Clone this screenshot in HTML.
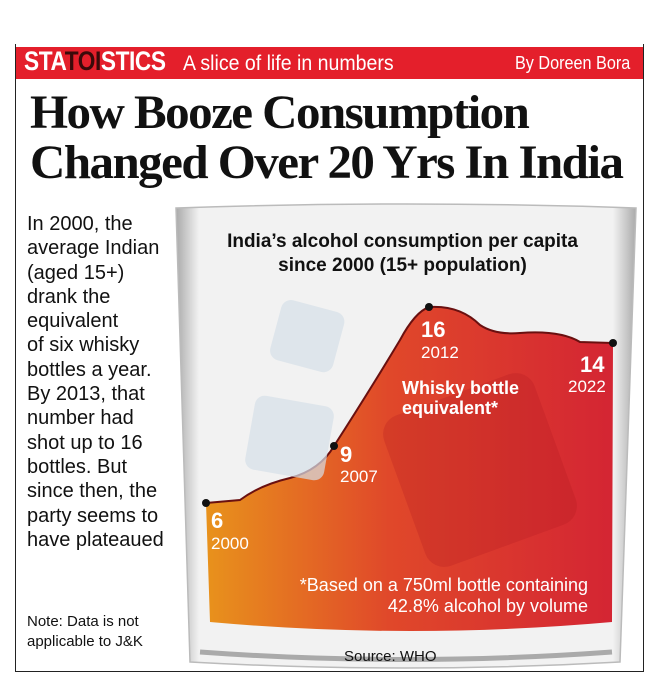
<!DOCTYPE html>
<html><head><meta charset="utf-8"><style>
body{margin:0;width:658px;height:686px;background:#fff;position:relative;overflow:hidden;font-family:"Liberation Sans",sans-serif}
.a{position:absolute;white-space:nowrap}
</style></head><body>
<div class="a" style="left:15px;top:44px;width:627px;height:627px;border:1.5px solid #222;border-top:none"></div>
<div class="a" style="left:16px;top:47px;width:627px;height:32px;background:#e41f2b"></div>
<div class="a" style="left:24px;top:46px;font-size:27px;font-weight:bold;color:#fff;letter-spacing:-0.5px;transform:scaleX(0.84);transform-origin:left">STA<span style="color:#3a0a0a">TOI</span>STICS</div>
<div class="a" style="left:183px;top:52px;font-size:21px;color:#fff;transform:scaleX(0.93);transform-origin:left">A slice of life in numbers</div>
<div class="a" style="left:515px;top:53px;font-size:18px;color:#fff;transform:scaleX(0.9);transform-origin:left">By Doreen Bora</div>
<div class="a" style="left:30px;top:88px;font-family:'Liberation Serif',serif;font-weight:bold;font-size:48px;color:#111;letter-spacing:-1.5px;line-height:50px;transform:scaleX(1.02);transform-origin:left">How Booze Consumption<br>Changed Over 20 Yrs In India</div>
<div class="a" style="left:27px;top:212px;font-size:20px;line-height:24.3px;color:#111">In 2000, the<br>average Indian<br>(aged 15+)<br>drank the<br>equivalent<br>of six whisky<br>bottles a year.<br>By 2013, that<br>number had<br>shot up to 16<br>bottles. But<br>since then, the<br>party seems to<br>have plateaued</div>
<div class="a" style="left:27px;top:612px;font-size:15px;line-height:20px;color:#111">Note: Data is not<br>applicable to J&amp;K</div>
<svg class="a" style="left:0;top:0" width="658" height="686">
<defs>
<linearGradient id="g" x1="0" x2="1"><stop offset="0" stop-color="#e8921c"/><stop offset="0.45" stop-color="#e0482a"/><stop offset="1" stop-color="#d42533"/></linearGradient>
<linearGradient id="gl" x1="0" x2="1"><stop offset="0" stop-color="#aaa"/><stop offset="0.05" stop-color="#f2f2f2"/><stop offset="0.95" stop-color="#f2f2f2"/><stop offset="1" stop-color="#aaa"/></linearGradient>
</defs>
<path d="M176 208 Q405 200 636 208 L620 662 Q405 674 190 662 Z" fill="url(#gl)" stroke="#bbb" stroke-width="1.5"/>
<path d="M206 503 L240 500 Q260 485 290 478 Q320 470 334 446 Q370 390 400 340 Q415 312 429 307 Q460 305 480 325 Q495 335 520 333 Q560 330 580 342 L613 343 L612 622 Q410 640 210 622 Z" fill="url(#g)"/>
<path d="M206 503 L240 500 Q260 485 290 478 Q320 470 334 446 Q370 390 400 340 Q415 312 429 307 Q460 305 480 325 Q495 335 520 333 Q560 330 580 342 L613 343" fill="none" stroke="#6a1010" stroke-width="2"/>
<rect x="275" y="305" width="65" height="62" rx="10" fill="#d5e0e8" opacity="0.7" transform="rotate(15 307 335)"/>
<rect x="250" y="400" width="80" height="75" rx="10" fill="#d5e0e8" opacity="0.7" transform="rotate(10 287 435)"/>
<rect x="400" y="390" width="160" height="160" rx="20" fill="#b01820" opacity="0.25" transform="rotate(-20 480 470)"/>
<path d="M200 652 Q405 667 612 652" fill="none" stroke="#aaa" stroke-width="5"/>
<g fill="#111"><circle cx="206" cy="503" r="4"/><circle cx="334" cy="446" r="4"/><circle cx="429" cy="307" r="4"/><circle cx="613" cy="343" r="4"/></g>
</svg>
<div class="a" style="left:220px;top:230px;font-size:19px;font-weight:bold;color:#111;line-height:24px;text-align:center;width:365px">India’s alcohol consumption per capita<br>since 2000 (15+ population)</div>
<div class="a" style="left:211px;top:508px;font-size:22px;font-weight:bold;color:#fff">6</div>
<div class="a" style="left:211px;top:534px;font-size:17px;color:#fff">2000</div>
<div class="a" style="left:340px;top:442px;font-size:22px;font-weight:bold;color:#fff">9</div>
<div class="a" style="left:340px;top:467px;font-size:17px;color:#fff">2007</div>
<div class="a" style="left:421px;top:317px;font-size:22px;font-weight:bold;color:#fff">16</div>
<div class="a" style="left:421px;top:343px;font-size:17px;color:#fff">2012</div>
<div class="a" style="left:580px;top:352px;font-size:22px;font-weight:bold;color:#fff">14</div>
<div class="a" style="left:568px;top:377px;font-size:17px;color:#fff">2022</div>
<div class="a" style="left:402px;top:378px;font-size:18px;font-weight:bold;color:#fff;line-height:20px">Whisky bottle<br>equivalent*</div>
<div class="a" style="left:290px;top:575px;font-size:18px;color:#fff;line-height:21px;text-align:right;width:298px">*Based on a 750ml bottle containing<br>42.8% alcohol by volume</div>
<div class="a" style="left:344px;top:648px;font-size:15px;color:#111">Source: WHO</div>
</body></html>
